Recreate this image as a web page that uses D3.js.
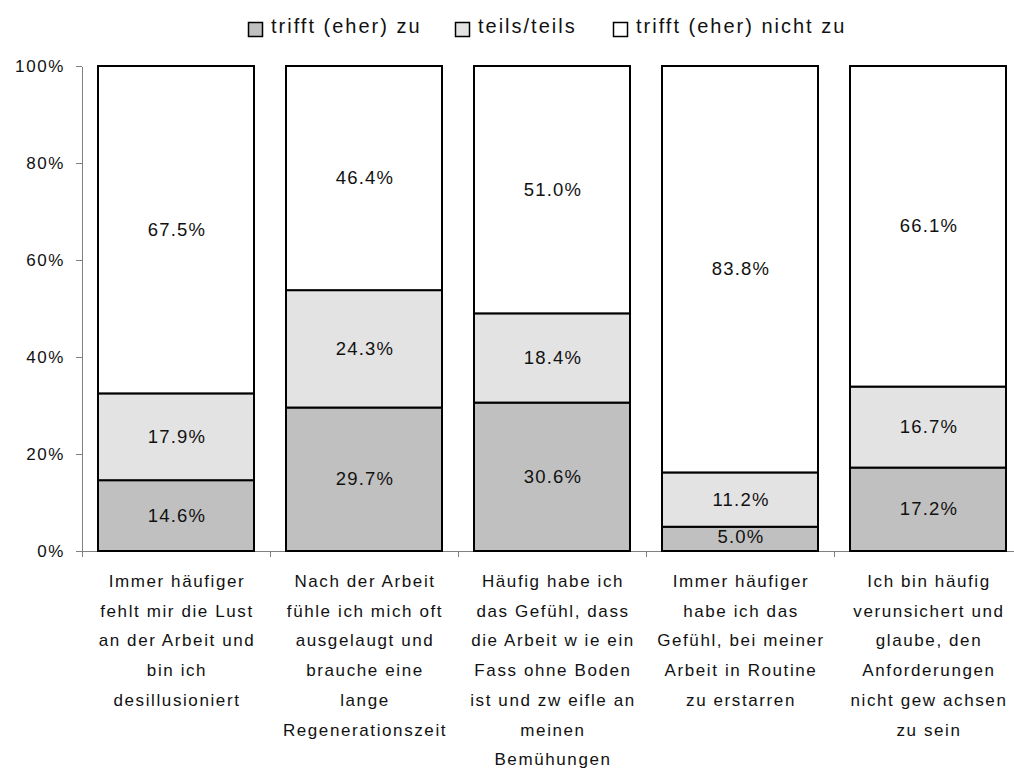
<!DOCTYPE html>
<html lang="de">
<head>
  <meta charset="UTF-8">
  <title>Stacked percent chart</title>
  <style>
    body { margin: 0; background: #fff; }
    svg text { font-family: "Liberation Sans", Arial, sans-serif; font-size: 17px; letter-spacing: 1.6px; fill: #111; }
    svg .val { font-size: 18.5px; letter-spacing: 1.2px; }
    svg .leg { font-size: 20px; letter-spacing: 2px; }
    .axis path, .axis line { stroke: #808080; shape-rendering: crispEdges; }
  </style>
  <script src="https://d3js.org/d3.v7.min.js"></script>
</head>
<body>
<div id="chart"></div>
<script>
// data
var categories = ['c1', 'c2', 'c3', 'c4', 'c5'];
var categoryLines = [
  ['Immer häufiger', 'fehlt mir die Lust', 'an der Arbeit und', 'bin ich', 'desillusioniert'],
  ['Nach der Arbeit', 'fühle ich mich oft', 'ausgelaugt und', 'brauche eine', 'lange', 'Regenerationszeit'],
  ['Häufig habe ich', 'das Gefühl, dass', 'die Arbeit w ie ein', 'Fass ohne Boden', 'ist und zw eifle an', 'meinen', 'Bemühungen'],
  ['Immer häufiger', 'habe ich das', 'Gefühl, bei meiner', 'Arbeit in Routine', 'zu erstarren'],
  ['Ich bin häufig', 'verunsichert und', 'glaube, den', 'Anforderungen', 'nicht gew achsen', 'zu sein']
];
var seriesNames = ['trifft (eher) zu', 'teils/teils', 'trifft (eher) nicht zu'];
var zuValues = [14.6, 29.7, 30.6, 5.0, 17.2];
var teilsValues = [17.9, 24.3, 18.4, 11.2, 16.7];
var nichtValues = [67.5, 46.4, 51.0, 83.8, 66.1];
var yTicks = [0, 0.2, 0.4, 0.6, 0.8, 1];
var colors = ['#c0c0c0', '#e3e3e3', '#ffffff'];

var rows = categories.map(function(c, i) {
  return { cat: c, s0: zuValues[i], s1: teilsValues[i], s2: nichtValues[i] };
});
var keys = ['s0', 's1', 's2'];
var stacked = d3.stack().keys(keys).offset(d3.stackOffsetExpand)(rows);

var W = 1014, H = 771;
var margin = { left: 82, top: 66 };
var plotH = 485, bandW = 188;

var svg = d3.select('#chart').append('svg').attr('width', W).attr('height', H);

var x = d3.scaleBand().domain(categories).range([margin.left, margin.left + bandW * 5]).paddingInner(32 / 188).paddingOuter(16 / 188);
var xb = d3.scaleBand().domain(categories).range([margin.left, margin.left + bandW * 5]);
var y = d3.scaleLinear().domain([0, 1]).range([margin.top + plotH, margin.top]);

// y axis
var yAxis = d3.axisLeft(y).tickValues(yTicks).tickSize(6).tickSizeOuter(0).tickFormat(d3.format('.0%'));
var gy = svg.append('g').attr('class', 'axis').attr('transform', 'translate(' + margin.left + ',0)').call(yAxis);
gy.selectAll('text').attr('x', -17).attr('dy', '0.35em').style('font-size', '17px').style('font-family', '"Liberation Sans", Arial, sans-serif');

// x axis line and ticks at band edges
var xAxis = svg.append('g').attr('class', 'axis');
xAxis.append('line').attr('x1', margin.left).attr('x2', W).attr('y1', y(0)).attr('y2', y(0));
xAxis.selectAll('.xt').data(categories).enter().append('line')
  .attr('x1', function(d) { return xb(d); }).attr('x2', function(d) { return xb(d); })
  .attr('y1', y(0)).attr('y2', y(0) + 6);

// bars
var layers = svg.selectAll('.layer').data(stacked).enter().append('g')
  .attr('fill', function(d, i) { return colors[i]; });
layers.selectAll('rect').data(function(d) { return d; }).enter().append('rect')
  .attr('x', function(d) { return x(d.data.cat); })
  .attr('width', x.bandwidth())
  .attr('y', function(d) { return y(d[1]); })
  .attr('height', function(d) { return y(d[0]) - y(d[1]); })
  .attr('stroke', '#000').attr('stroke-width', 2);

// value labels
stacked.forEach(function(layer, li) {
  svg.append('g').selectAll('text').data(layer).enter().append('text')
    .attr('class', 'val')
    .attr('text-anchor', 'middle')
    .attr('x', function(d) { return x(d.data.cat) + x.bandwidth() / 2 + 1; })
    .attr('y', function(d) { return (y(d[0]) + y(d[1])) / 2 + 6 - (li === 0 && d.data.s0 < 8 ? 2 : 0); })
    .text(function(d) { return d.data[keys[li]].toFixed(1) + '%'; });
});

// category labels
categories.forEach(function(c, i) {
  var t = svg.append('text').attr('text-anchor', 'middle');
  categoryLines[i].forEach(function(line, j) {
    t.append('tspan').attr('x', xb(c) + bandW / 2 + 1)
      .attr('y', 587 + j * 29.7).text(line);
  });
});

// legend
var legendX = [248, 455, 613];
var lg = svg.selectAll('.lg').data(seriesNames).enter().append('g')
  .attr('transform', function(d, i) { return 'translate(' + legendX[i] + ',0)'; });
lg.append('rect').attr('x', 0.5).attr('y', 22.5).attr('width', 14).attr('height', 14)
  .attr('fill', function(d, i) { return colors[i]; }).attr('stroke', '#000').attr('stroke-width', 1.5);
lg.append('text').attr('class', 'leg').attr('x', 23).attr('y', 33).text(function(d) { return d; });
</script>
</body>
</html>
